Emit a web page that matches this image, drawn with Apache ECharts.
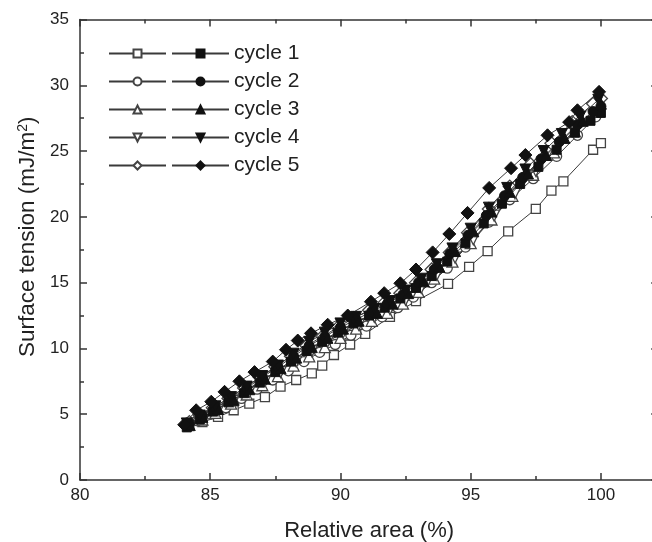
<!DOCTYPE html>
<html><head><meta charset="utf-8">
<script src="https://cdn.jsdelivr.net/npm/echarts@6/dist/echarts.min.js"></script>
<style>html,body{margin:0;padding:0;background:#fff}#c{width:652px;height:542px}</style>
</head><body><div id="c"></div>
<script>
// ---- data ----
const cycleNames = ['cycle 1', 'cycle 2', 'cycle 3', 'cycle 4', 'cycle 5'];
const xTickLabels = [80, 85, 90, 95, 100];
const xMinorTicks = [82.5, 87.5, 92.5, 97.5];

// open symbols
const c1oX = [84.2, 84.7, 85.3, 85.9, 86.5, 87.1, 87.7, 88.3, 88.9, 89.3, 89.75, 90.37, 90.95, 91.9, 92.9, 94.13, 94.94, 95.65, 96.44, 97.5, 98.1, 98.56, 99.7, 100.0];
const c1oY = [4.1, 4.4, 4.8, 5.3, 5.8, 6.3, 7.1, 7.6, 8.1, 8.7, 9.5, 10.3, 11.1, 12.4, 13.6, 14.9, 16.2, 17.4, 18.9, 20.6, 22.0, 22.7, 25.1, 25.6];
const c2oX = [84.1, 84.5, 85.0, 85.6, 86.2, 86.8, 87.4, 88.0, 88.6, 89.2, 89.8, 90.4, 91.0, 91.6, 92.2, 92.8, 93.5, 94.1, 94.8, 95.7, 96.5, 97.4, 98.3, 99.1, 99.8];
const c2oY = [4.1, 4.5, 5.0, 5.5, 6.2, 6.9, 7.6, 8.3, 9.0, 9.7, 10.3, 11.0, 11.7, 12.4, 13.1, 13.9, 15.0, 16.1, 17.7, 19.6, 21.3, 22.9, 24.6, 26.2, 27.6];
const c3oX = [84.2, 84.7, 85.2, 85.8, 86.4, 87.0, 87.6, 88.2, 88.8, 89.4, 90.0, 90.6, 91.2, 91.8, 92.4, 93.0, 93.6, 94.3, 95.0, 95.8, 96.6, 97.4, 98.2, 99.0, 99.8];
const c3oY = [4.2, 4.6, 5.1, 5.8, 6.5, 7.2, 7.9, 8.7, 9.4, 10.1, 10.8, 11.5, 12.1, 12.7, 13.4, 14.3, 15.3, 16.6, 18.0, 19.8, 21.6, 23.2, 24.9, 26.5, 28.0];
const c4oX = [84.3, 84.8, 85.3, 85.9, 86.5, 87.1, 87.7, 88.3, 88.9, 89.5, 90.1, 90.7, 91.3, 91.9, 92.5, 93.1, 93.7, 94.4, 95.1, 95.9, 96.7, 97.5, 98.3, 99.1, 99.9];
const c4oY = [4.3, 4.8, 5.3, 6.0, 6.7, 7.5, 8.2, 9.0, 9.8, 10.5, 11.2, 11.8, 12.4, 13.0, 13.7, 14.6, 15.6, 16.9, 18.3, 20.1, 21.8, 23.5, 25.2, 26.8, 28.3];
const c5oX = [84.2, 84.6, 85.1, 85.7, 86.3, 86.9, 87.5, 88.1, 88.7, 89.3, 89.9, 90.5, 91.1, 91.7, 92.3, 92.9, 93.5, 94.2, 94.9, 95.7, 96.5, 97.3, 98.1, 98.9, 99.7, 100.0];
const c5oY = [4.4, 4.9, 5.5, 6.2, 7.0, 7.8, 8.6, 9.4, 10.2, 10.9, 11.6, 12.3, 12.9, 13.5, 14.2, 15.0, 16.0, 17.3, 18.8, 20.6, 22.3, 24.0, 25.6, 27.2, 28.6, 29.0];

// filled symbols
const c1fX = [84.1, 84.6, 85.1, 85.7, 86.3, 86.9, 87.5, 88.1, 88.7, 89.3, 89.9, 90.5, 91.1, 91.7, 92.3, 92.9, 93.5, 94.1, 94.8, 95.5, 96.2, 96.9, 97.6, 98.3, 99.0, 99.6, 100.0];
const c1fY = [4.0, 4.6, 5.2, 5.9, 6.6, 7.4, 8.2, 9.0, 9.8, 10.5, 11.2, 11.9, 12.5, 13.1, 13.8, 14.6, 15.5, 16.6, 18.0, 19.5, 21.0, 22.5, 23.8, 25.1, 26.4, 27.3, 27.9];
const c2fX = [84.2, 84.7, 85.2, 85.8, 86.4, 87.0, 87.6, 88.2, 88.8, 89.4, 90.0, 90.6, 91.2, 91.8, 92.4, 93.0, 93.6, 94.2, 94.9, 95.6, 96.3, 97.0, 97.7, 98.4, 99.1, 99.7, 100.0];
const c2fY = [4.3, 4.9, 5.5, 6.2, 7.0, 7.8, 8.6, 9.4, 10.2, 10.9, 11.6, 12.2, 12.8, 13.4, 14.1, 15.0, 16.0, 17.2, 18.6, 20.1, 21.6, 23.0, 24.4, 25.7, 27.0, 28.0, 28.4];
const c3fX = [84.2, 84.7, 85.3, 85.9, 86.5, 87.1, 87.7, 88.3, 88.9, 89.5, 90.1, 90.7, 91.4, 92.0, 92.6, 93.2, 93.8, 94.4, 95.1, 95.8, 96.5, 97.2, 97.9, 98.6, 99.3, 100.0];
const c3fY = [4.2, 4.8, 5.4, 6.1, 6.9, 7.7, 8.5, 9.3, 10.1, 10.8, 11.5, 12.1, 12.7, 13.4, 14.2, 15.1, 16.2, 17.4, 18.9, 20.4, 21.9, 23.3, 24.7, 26.0, 27.3, 28.6];
const c4fX = [84.1, 84.6, 85.2, 85.8, 86.4, 87.0, 87.6, 88.2, 88.8, 89.4, 90.0, 90.6, 91.3, 91.9, 92.5, 93.1, 93.7, 94.3, 95.0, 95.7, 96.4, 97.1, 97.8, 98.5, 99.2, 99.9];
const c4fY = [4.3, 4.9, 5.6, 6.3, 7.1, 7.9, 8.7, 9.6, 10.5, 11.2, 11.9, 12.4, 13.0, 13.6, 14.4, 15.3, 16.4, 17.6, 19.1, 20.7, 22.2, 23.6, 25.0, 26.3, 27.6, 28.9];
const c5fX = [84.0, 84.46, 85.04, 85.55, 86.12, 86.7, 87.4, 87.91, 88.36, 88.87, 89.51, 90.28, 91.17, 91.68, 92.3, 92.9, 93.54, 94.18, 94.88, 95.71, 96.55, 97.1, 97.95, 98.78, 99.1, 99.93];
const c5fY = [4.2, 5.3, 5.95, 6.7, 7.5, 8.2, 9.0, 9.9, 10.6, 11.15, 11.8, 12.5, 13.55, 14.2, 14.95, 16.0, 17.3, 18.7, 20.3, 22.2, 23.7, 24.7, 26.2, 27.2, 28.1, 29.5];

const openX = [c1oX, c2oX, c3oX, c4oX, c5oX];
const openY = [c1oY, c2oY, c3oY, c4oY, c5oY];
const fillX = [c1fX, c2fX, c3fX, c4fX, c5fX];
const fillY = [c1fY, c2fY, c3fY, c4fY, c5fY];

// ---- styling ----
const FONT = 'Liberation Sans, Arial, Helvetica, sans-serif';
const DOWN_TRI = 'path://M0,0 L10,0 L5,9 Z';
const symbols = ['rect', 'circle', 'triangle', DOWN_TRI, 'diamond'];
const symSizes = [9, 10, 11, 11, 13];
const LINE = '#3a3a3a';
const AX = '#333';

function pairs(xs, ys) { return xs.map((x, i) => [x, ys[i]]); }

const openNames = cycleNames.map(n => n + ' ');
const series = [];
for (let i = 0; i < 5; i++) {
  series.push({
    type: 'line', name: openNames[i], data: pairs(openX[i], openY[i]),
    symbol: symbols[i], symbolSize: symSizes[i], showSymbol: true,
    lineStyle: { color: LINE, width: 1 },
    itemStyle: { color: '#fff', borderColor: '#444', borderWidth: 1.3 },
    z: 2
  });
}
for (let i = 0; i < 5; i++) {
  series.push({
    type: 'line', name: cycleNames[i], data: pairs(fillX[i], fillY[i]),
    symbol: symbols[i], symbolSize: symSizes[i], showSymbol: true,
    lineStyle: { color: LINE, width: 1 },
    itemStyle: { color: '#111', borderColor: '#111', borderWidth: 1 },
    z: 3
  });
}

const X_MAX = 102.2;
const xBase = { type: 'value', min: 80, max: X_MAX, gridIndex: 0, splitLine: { show: false } };
const lineSt = { show: true, lineStyle: { color: AX, width: 1.5 } };

const option = {
  animation: false,
  backgroundColor: '#fff',
  grid: { left: 80, top: 19.5, width: 573 * (X_MAX - 80) / 22, height: 460.5, containLabel: false, outerBoundsMode: 'none' },
  legend: [
    {
      data: openNames, orient: 'vertical', left: 108, top: 43, padding: 0,
      itemWidth: 57, itemHeight: 10, itemGap: 7, selectedMode: false,
      formatter: () => ' ',
      textStyle: { fontSize: 21, lineHeight: 20, fontFamily: FONT, color: '#222' }
    },
    {
      data: cycleNames, orient: 'vertical', left: 171, top: 43, padding: 0,
      itemWidth: 57, itemHeight: 10, itemGap: 7, selectedMode: false,
      textStyle: { fontSize: 21, lineHeight: 20, fontFamily: FONT, color: '#222' }
    }
  ],
  xAxis: [
    Object.assign({}, xBase, {
      position: 'bottom',
      name: 'Relative area (%)', nameLocation: 'middle', nameGap: 40,
      nameTextStyle: { fontSize: 22, fontFamily: FONT, color: '#222' },
      axisLine: lineSt,
      axisTick: { show: true, inside: true, length: 7, customValues: xTickLabels, lineStyle: { color: AX, width: 1.5 } },
      axisLabel: { show: true, customValues: xTickLabels, margin: 7, fontSize: 17, fontFamily: FONT, color: '#222' }
    }),
    Object.assign({}, xBase, {
      position: 'bottom', axisLine: { show: false },
      axisTick: { show: true, inside: true, length: 4, customValues: xMinorTicks, lineStyle: { color: AX, width: 1.5 } },
      axisLabel: { show: false }
    }),
    Object.assign({}, xBase, {
      position: 'top', axisLine: lineSt,
      axisTick: { show: true, inside: true, length: 7, customValues: xTickLabels, lineStyle: { color: AX, width: 1.5 } },
      axisLabel: { show: false }
    }),
    Object.assign({}, xBase, {
      position: 'top', axisLine: { show: false },
      axisTick: { show: true, inside: true, length: 4, customValues: xMinorTicks, lineStyle: { color: AX, width: 1.5 } },
      axisLabel: { show: false }
    })
  ],
  yAxis: [
    {
      type: 'value', min: 0, max: 35, interval: 5, position: 'left',
      name: 'Surface tension (mJ/m{sup|2})', nameLocation: 'middle', nameGap: 41, nameRotate: 90,
      nameTextStyle: { fontSize: 22.5, fontFamily: FONT, color: '#222', padding: [0, 0, 0, 26],
        rich: { sup: { fontSize: 14, fontFamily: FONT, color: '#222', verticalAlign: 'top', padding: [0, 0, 8, 0] } } },
      axisLine: lineSt, splitLine: { show: false },
      axisTick: { show: true, inside: true, length: 7, lineStyle: { color: AX, width: 1.5 } },
      minorTick: { show: true, splitNumber: 2, length: 4, lineStyle: { color: AX, width: 1.5 } },
      axisLabel: { margin: 11, fontSize: 17, fontFamily: FONT, color: '#222' }
    },
    {
      type: 'value', min: 0, max: 35, interval: 5, position: 'right',
      axisLine: lineSt, splitLine: { show: false },
      axisTick: { show: true, inside: true, length: 7, lineStyle: { color: AX, width: 1.5 } },
      minorTick: { show: true, splitNumber: 2, length: 4, lineStyle: { color: AX, width: 1.5 } },
      axisLabel: { show: false }
    }
  ],
  series: series
};

const chart = echarts.init(document.getElementById('c'), null, { renderer: 'canvas' });
chart.setOption(option);
</script></body></html>
